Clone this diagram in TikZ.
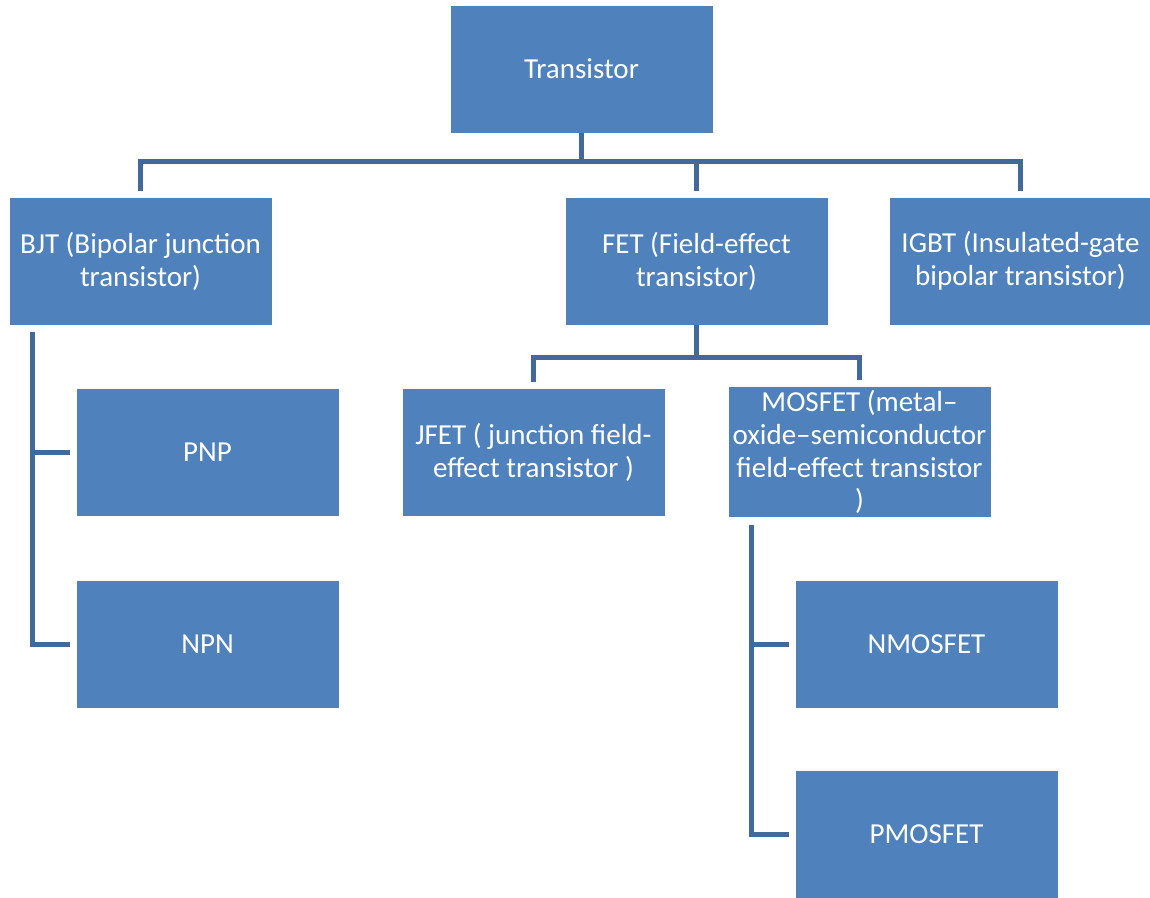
\documentclass[tikz,border=0pt]{standalone}
\usepackage{fontspec}
\setmainfont{Carlito}
\usepackage{xcolor}
\usepackage{tikz}
\usetikzlibrary{positioning}
\definecolor{trFill}{HTML}{4F81BD}
\definecolor{trLink}{HTML}{41699B}
\tikzset{
  tr diagram/.style={font=\fontsize{16.5}{18.7}\selectfont, line join=miter},
  tr box/.style={draw=white, fill=trFill, line width=0.4pt, text=white,
    minimum width=5.26cm, minimum height=2.56cm, align=center, inner sep=2pt},
  tr link/.style={draw=trLink, line width=0.1cm},
  tr bus/.style={tr link, shorten >=0.12cm},
  tr spine/.style={tr link, shorten <=0.14cm, shorten >=0.12cm}
}
\begin{document}
\begin{tikzpicture}[tr diagram]
\useasboundingbox (0,0) rectangle (23,-17.94);
% boxes
\node[tr box] (root) at (11.63,-1.38) {Transistor};
\node[tr box] (bjt) at (2.81,-5.22) {BJT (Bipolar junction\\transistor)};
\node[tr box] (fet) at (13.93,-5.22) {FET (Field-effect\\transistor)};
\node[tr box] (igbt) at (20.41,-5.22) {IGBT (Insulated-gate\\bipolar transistor)};
\node[tr box] (pnp) at (4.15,-9.04) {PNP};
\node[tr box] (npn) at (4.15,-12.88) {NPN};
\node[tr box] (jfet) at (10.67,-9.04) {JFET ( junction field-\\effect transistor )};
\node[tr box] (mosfet) at (17.19,-9.04) {MOSFET (metal--\\oxide--semiconductor\\field-effect transistor\\)};
\node[tr box] (nmos) at (18.53,-12.88) {NMOSFET};
\node[tr box] (pmos) at (18.53,-16.68) {PMOSFET};
% connectors
\foreach \child in {bjt,fet,igbt}
  \draw[tr bus] (root.south) -- ++(0,-0.57) -| (\child.north);
\foreach \child in {jfet,mosfet}
  \draw[tr bus] (fet.south) -- ++(0,-0.64) -| (\child.north);
\foreach \leaf in {pnp,npn}
  \draw[tr spine] ([xshift=0.48cm]bjt.south west) |- (\leaf.west);
\foreach \leaf in {nmos,pmos}
  \draw[tr spine] ([xshift=0.48cm]mosfet.south west) |- (\leaf.west);
\end{tikzpicture}
\end{document}
